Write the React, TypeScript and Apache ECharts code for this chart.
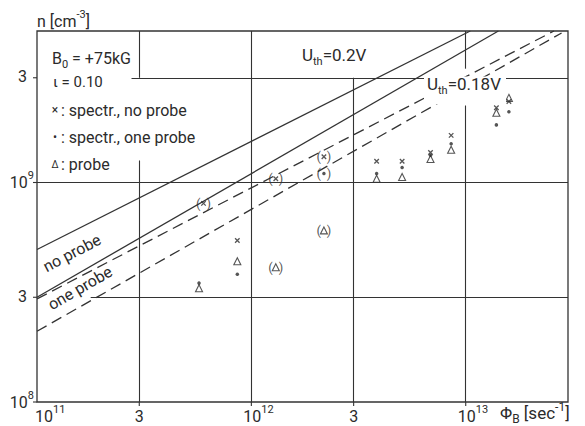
import { useEffect, useRef } from 'react';
import * as echarts from 'echarts';

// Axis ranges (log scales)
const X_MIN = 1e11;
const X_MAX = 3e13;
const Y_MIN = 1e8;
const Y_MAX = 4.9e9;

// Tick values and labels ("^" marks an exponent)
const xTickValues = [1e11, 3e11, 1e12, 3e12, 1e13];
const xTickLabels = ['10^11', '3', '10^12', '3', '10^13'];
const yTickValues = [1e8, 3e8, 1e9, 3e9];
const yTickLabels = ['10^8', '3', '10^9', '3'];

// Threshold lines, end points [flux, density]
const noProbe020 = [[1e11, 4.95e8], [1.05e13, 4.9e9]];
const noProbe018 = [[1e11, 3.0e8], [1.42e13, 4.9e9]];
const oneProbe020 = [[1e11, 2.95e8], [2.58e13, 4.9e9]];
const oneProbe018 = [[1e11, 2.1e8], [2.8e13, 4.8e9]];

// Measured densities [flux, density]; "Uncertain" points are drawn in brackets
const spectrNoProbe = [
  [8.6e11, 5.44e8], [3.84e12, 1.25e9], [5.05e12, 1.25e9], [6.85e12, 1.37e9],
  [8.55e12, 1.64e9], [1.39e13, 2.19e9], [1.59e13, 2.34e9],
];
const spectrNoProbeUncertain = [[5.98e11, 8.03e8], [1.3e12, 1.04e9], [2.18e12, 1.31e9]];
const spectrOneProbe = [
  [5.7e11, 3.48e8], [8.6e11, 3.82e8], [3.84e12, 1.1e9], [5.05e12, 1.17e9],
  [6.85e12, 1.33e9], [8.55e12, 1.5e9], [1.39e13, 1.83e9], [1.59e13, 2.1e9],
];
const spectrOneProbeUncertain = [[2.18e12, 1.1e9]];
const probe = [
  [5.7e11, 3.3e8], [8.6e11, 4.38e8], [3.84e12, 1.04e9], [5.05e12, 1.06e9],
  [6.85e12, 1.28e9], [8.55e12, 1.41e9], [1.39e13, 2.08e9], [1.59e13, 2.43e9],
];
const probeUncertain = [[1.3e12, 4.11e8], [2.18e12, 6.05e8]];

// Grid line segments [[x1, y1], [x2, y2]] (interrupted around the annotations)
const gridSegments = [
  [[3e11, Y_MIN], [3e11, 1.26e9]],
  [[3e11, 3e9], [3e11, Y_MAX]],
  [[1e12, Y_MIN], [1e12, Y_MAX]],
  [[3e12, Y_MIN], [3e12, 3e9]],
  [[1e13, Y_MIN], [1e13, 2.24e9]],
  [[1e13, 3.3e9], [1e13, Y_MAX]],
  [[1.78e11, 3e8], [X_MAX, 3e8]],
  [[X_MIN, 1e9], [X_MAX, 1e9]],
  [[2.76e11, 3e9], [X_MAX, 3e9]],
];

const FONT = 'Roboto, "DejaVu Sans", sans-serif';
const INK = '#2b2b2b';
const LINE = '#333';
const CROSS = 'path://M0,0L10,10M10,0L0,10';

const RICH = {
  sup: { fontSize: 11, fontFamily: FONT, fill: INK, verticalAlign: 'top' },
  sub: { fontSize: 11, fontFamily: FONT, fill: INK, verticalAlign: 'bottom' },
};

const text = (x: number, y: number, str: string, extra: any = {}, el: any = {}) => ({
  type: 'text',
  x,
  y,
  z: 100,
  silent: true,
  ...el,
  style: {
    text: str,
    fill: INK,
    fontFamily: FONT,
    fontSize: 16,
    lineHeight: 24,
    align: 'left',
    verticalAlign: 'middle',
    rich: RICH,
    ...extra,
  },
});

const fmtPow = (label: string) => {
  const [base, exp] = label.split('^');
  return exp ? `${base}{sup|${exp}}` : base;
};

const thresholdLine = (name: string, data: number[][], dashed: boolean, extra: any = {}) => ({
  type: 'line',
  name,
  data,
  symbol: 'none',
  silent: true,
  z: 2,
  lineStyle: { color: LINE, width: 1.3, type: dashed ? [11, 6] : 'solid' },
  ...extra,
});

const bracketLabel = {
  show: true,
  position: 'inside',
  color: INK,
  formatter: '{p|(}{g|}{p|)}',
  rich: {
    p: { fontSize: 13, fontFamily: FONT, color: INK },
    g: { width: 6 },
  },
};

const crossStyle = { color: 'rgba(0,0,0,0)', borderColor: INK, borderWidth: 1.3 };
const dotStyle = { color: INK };
const triStyle = { color: '#fff', borderColor: INK, borderWidth: 1.1 };

export default function App() {
  const ref = useRef<HTMLDivElement>(null);

  useEffect(() => {
    const el = ref.current;
    if (!el) return;
    const chart = echarts.init(el, undefined, { renderer: 'svg' });

    chart.setOption({
      animation: false,
      backgroundColor: '#fff',
      grid: {
        left: 37,
        right: 17,
        top: 31,
        bottom: 24,
        show: true,
        borderColor: LINE,
        borderWidth: 1.3,
      },
      xAxis: {
        type: 'log',
        logBase: 10,
        min: X_MIN,
        max: X_MAX,
        axisLine: { show: false },
        axisTick: { show: false },
        axisLabel: { show: false },
        splitLine: { show: false },
      },
      yAxis: {
        type: 'log',
        logBase: 10,
        min: Y_MIN,
        max: Y_MAX,
        axisLine: { show: false },
        axisTick: { show: false },
        axisLabel: { show: false },
        splitLine: { show: false },
      },
      series: [
        thresholdLine('no probe, Uth 0.2 V', noProbe020, false, {
          markLine: {
            silent: true,
            symbol: ['none', 'none'],
            label: { show: false },
            lineStyle: { color: LINE, width: 1.1, type: 'solid' },
            data: gridSegments.map(([a, b]) => [{ coord: a }, { coord: b }]),
          },
        }),
        thresholdLine('no probe, Uth 0.18 V', noProbe018, false),
        thresholdLine('one probe, Uth 0.2 V', oneProbe020, true),
        thresholdLine('one probe, Uth 0.18 V', oneProbe018, true),
        {
          type: 'scatter', name: 'probe', data: probe, symbol: 'triangle',
          symbolSize: 7, itemStyle: triStyle, z: 3,
        },
        {
          type: 'scatter', name: 'probe (bracketed)', data: probeUncertain, symbol: 'triangle',
          symbolSize: 7, itemStyle: triStyle, label: bracketLabel, z: 3,
        },
        {
          type: 'scatter', name: 'spectr., no probe', data: spectrNoProbe, symbol: CROSS,
          symbolSize: 4.5, itemStyle: crossStyle, z: 4,
        },
        {
          type: 'scatter', name: 'spectr., no probe (bracketed)', data: spectrNoProbeUncertain,
          symbol: CROSS, symbolSize: 4.5, itemStyle: crossStyle, label: bracketLabel, z: 4,
        },
        {
          type: 'scatter', name: 'spectr., one probe', data: spectrOneProbe, symbol: 'circle',
          symbolSize: 3.5, itemStyle: dotStyle, z: 5,
        },
        {
          type: 'scatter', name: 'spectr., one probe (bracketed)', data: spectrOneProbeUncertain,
          symbol: 'circle', symbolSize: 3.5, itemStyle: dotStyle, label: bracketLabel, z: 5,
        },
      ],
    });

    const toPx = (x: number, y: number) =>
      chart.convertToPixel({ gridIndex: 0 }, [x, y]) as number[];
    const [, bottomY] = toPx(X_MIN, Y_MIN);
    const [leftX] = toPx(X_MIN, Y_MIN);

    const graphics: any[] = [];

    // x tick marks and labels
    xTickValues.forEach((v, i) => {
      const [px] = toPx(v, Y_MIN);
      const label = xTickLabels[i];
      if (i > 0) {
        graphics.push({
          type: 'line', z: 100, silent: true,
          shape: { x1: px, y1: bottomY, x2: px, y2: bottomY + 4 },
          style: { stroke: LINE, lineWidth: 1.1 },
        });
      }
      if (label.includes('^')) {
        graphics.push(text(px + (i === 0 ? -2 : -8), bottomY + 14, fmtPow(label)));
      } else {
        graphics.push(text(px, bottomY + 14, label, { align: 'center' }));
      }
    });

    // y tick marks and labels
    yTickValues.forEach((v, i) => {
      const [, py] = toPx(X_MIN, v);
      const label = yTickLabels[i];
      graphics.push({
        type: 'line', z: 100, silent: true,
        shape: { x1: leftX - 4, y1: py, x2: leftX, y2: py },
        style: { stroke: LINE, lineWidth: 1.1 },
      });
      if (label.includes('^')) {
        graphics.push(text(leftX - 3, py, fmtPow(label), { align: 'right' }));
      } else {
        graphics.push(text(leftX - 10, py - 1, label, { align: 'right' }));
      }
    });

    // axis titles
    graphics.push(text(37, 21, 'n [cm{sup|-3}]'));
    graphics.push(
      text(500, 413, 'Φ{sub|B} [sec{sup|-1}]', {
        fontSize: 17,
        rich: {
          sup: { ...RICH.sup, fontSize: 12 },
          sub: { ...RICH.sub, fontSize: 12 },
        },
      }),
    );

    // parameter block and marker key
    graphics.push(text(52, 58, 'B{sub|0} = +75kG'));
    graphics.push(text(53, 82, 'ι = 0.10', { fontSize: 15 }));
    graphics.push(text(55, 110, '×', { align: 'center', fontSize: 12 }));
    graphics.push(text(55, 137, '•', { align: 'center', fontSize: 12 }));
    graphics.push(text(55, 164, 'Δ', { align: 'center', fontSize: 10 }));
    graphics.push(text(61, 110, ': spectr., no probe'));
    graphics.push(text(61, 137, ': spectr., one probe'));
    graphics.push(text(61, 164, ': probe'));

    // threshold annotations
    graphics.push(text(302, 55, 'U{sub|th}=0.2V', { fontSize: 17 }));
    graphics.push({
      type: 'rect', z: 99, silent: true,
      shape: { x: 424, y: 76.5, width: 82, height: 28 },
      style: { fill: '#fff' },
    });
    graphics.push(text(427, 84, 'U{sub|th}=0.18V', { fontSize: 17 }));

    // line family labels
    graphics.push(
      text(72, 253, 'no probe', { align: 'center' }, { rotation: (27.5 * Math.PI) / 180 }),
    );
    graphics.push(
      text(80, 288, 'one probe', { align: 'center' }, { rotation: (30 * Math.PI) / 180 }),
    );

    chart.setOption({ graphic: graphics });

    return () => chart.dispose();
  }, []);

  return (
    <div
      ref={ref}
      style={{ position: 'fixed', left: 0, top: 0, width: 585, height: 426, background: '#fff' }}
    />
  );
}
